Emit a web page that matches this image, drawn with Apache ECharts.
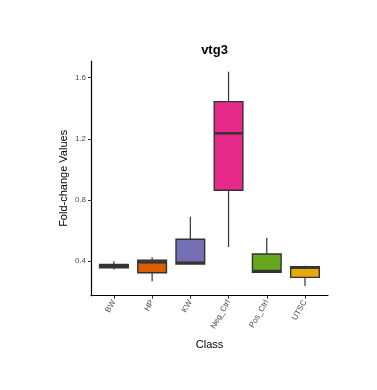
<!DOCTYPE html>
<html>
	<head>
		<meta charset="utf-8">
		<title>vtg3</title>
	</head>
	<body style="margin:0;background:#fff;">
		<!-- chart area -->
		<div id="container" style="width: 377px;height:390px;"></div>
	</body>
	<script src="https://cdn.jsdelivr.net/npm/echarts@6/dist/echarts.min.js"></script>
	<script type="text/javascript">
		'use strict'
		// data
		var categories = ['BW', 'HP', 'KW', 'Neg_Ctrl', 'Pos_Ctrl', 'UTSC'];
		var mins    = [0.345, 0.267, 0.380, 0.492, 0.326, 0.236];
		var q1s     = [0.356, 0.323, 0.380, 0.863, 0.326, 0.293];
		var medians = [0.367, 0.391, 0.389, 1.236, 0.335, 0.356];
		var q3s     = [0.378, 0.405, 0.542, 1.443, 0.446, 0.363];
		var maxs    = [0.398, 0.424, 0.690, 1.639, 0.553, 0.369];
		var yTicks  = [0.4, 0.8, 1.2, 1.6];

		// Dark2 fill colours
		var palette = ['#1B9E77', '#D95F02', '#7570B3', '#E7298A', '#66A61E', '#E6AB02'];

		var font = 'Liberation Sans, Arial, sans-serif';
		var yMin = 0.173, yMax = 1.709;

		var boxData = categories.map(function (c, i) {
			return [i, mins[i], q1s[i], medians[i], q3s[i], maxs[i]];
		});

		var myCharts = echarts.init(document.getElementById('container'));
		var option = {
			animation: false,
			title: {
				text: 'vtg3',
				left: 209.5,
				top: 39,
				textAlign: 'center',
				textStyle: { fontFamily: font, fontSize: 13, fontWeight: 'bold', color: '#000' }
			},
			grid: [
				// outer grid: axis lines, y labels, names
				{ left: 91, right: 49, top: 61, bottom: 94.3 },
				// inner grid: categories (ggplot expands 0.6 on each side)
				{ left: 94.8, width: 229.3, top: 61, bottom: 94.3 }
			],
			xAxis: [
				{
					type: 'value', gridIndex: 0, min: 0, max: 1,
					axisLine: { show: true, onZero: false, lineStyle: { color: '#000', width: 1.2 } },
					axisTick: { show: false }, axisLabel: { show: false }, splitLine: { show: false },
					name: 'Class', nameLocation: 'middle', nameGap: 44,
					nameTextStyle: { fontFamily: font, fontSize: 11, color: '#000' }
				},
				{
					type: 'category', gridIndex: 1, data: categories,
					axisLine: { show: false },
					axisTick: { show: true, alignWithLabel: true, length: 3, lineStyle: { color: '#333', width: 1 } },
					axisLabel: { rotate: 60, fontFamily: font, fontSize: 8, color: '#4d4d4d', margin: 5 },
					splitLine: { show: false }
				}
			],
			yAxis: [
				{
					type: 'value', gridIndex: 0, min: yMin, max: yMax,
					axisLine: { show: true, onZero: false, lineStyle: { color: '#000', width: 1.2 } },
					axisTick: { show: true, length: 3, customValues: yTicks, lineStyle: { color: '#333', width: 1 } },
					axisLabel: {
						customValues: yTicks, fontFamily: font, fontSize: 8, color: '#4d4d4d', margin: 5,
						formatter: function (v) { return v.toFixed(1); }
					},
					splitLine: { show: false },
					name: 'Fold-change Values', nameLocation: 'middle', nameGap: 22,
					nameMoveOverlap: false,
					nameTextStyle: { fontFamily: font, fontSize: 11, color: '#000' }
				},
				{
					type: 'value', gridIndex: 1, min: yMin, max: yMax, show: false
				}
			],
			series: [{
				type: 'custom',
				xAxisIndex: 1,
				yAxisIndex: 1,
				encode: { x: 0, y: [1, 2, 3, 4, 5] },
				data: boxData,
				renderItem: function (params, api) {
					var i = api.value(0);
					var lo = api.coord([i, api.value(1)]);
					var q1 = api.coord([i, api.value(2)]);
					var md = api.coord([i, api.value(3)]);
					var q3 = api.coord([i, api.value(4)]);
					var hi = api.coord([i, api.value(5)]);
					var half = api.size([1, 0])[0] * 0.375;
					var x = q1[0];
					var edge = { stroke: '#333', lineWidth: 1.2 };
					return {
						type: 'group',
						children: [
							{ type: 'line', shape: { x1: x, y1: q3[1], x2: x, y2: hi[1] }, style: edge },
							{ type: 'line', shape: { x1: x, y1: q1[1], x2: x, y2: lo[1] }, style: edge },
							{
								type: 'rect',
								shape: { x: x - half, y: q3[1], width: half * 2, height: q1[1] - q3[1] },
								style: { fill: palette[i], stroke: '#333', lineWidth: 1.4 }
							},
							{ type: 'line', shape: { x1: x - half, y1: md[1], x2: x + half, y2: md[1] }, style: { stroke: '#333', lineWidth: 2.4 } }
						]
					};
				}
			}]
		};
		myCharts.setOption(option);
	</script>
</html>
